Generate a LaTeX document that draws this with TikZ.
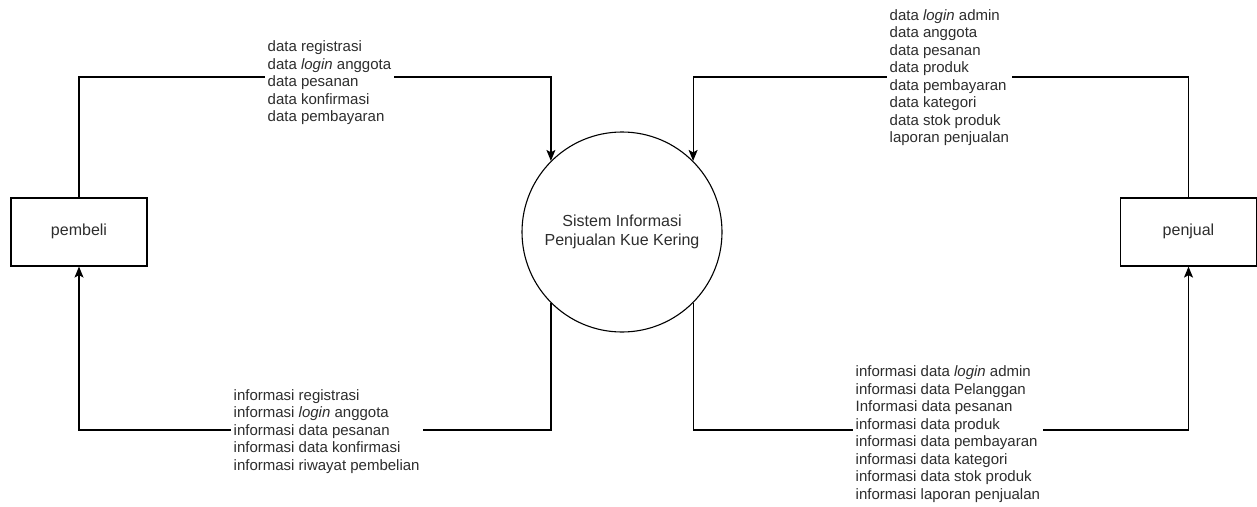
\documentclass[tikz,border=0pt]{standalone}
\usepackage{fontspec}
\setmainfont{Liberation Sans}
\usetikzlibrary{arrows.meta}
\definecolor{txt}{RGB}{45,45,45}
\tikzset{
  entity/.style={draw=black, line width=1.2pt, minimum width=136pt, minimum height=68pt,
    inner sep=0pt, text=txt, font=\fontsize{16}{19}\selectfont},
  process/.style={draw=black, line width=1.1pt, circle, minimum size=200pt, inner sep=0pt,
    align=center, text=txt, font=\fontsize{16}{19}\selectfont},
  flow/.style={draw=black, line width=1.2pt},
  flowarrow/.style={flow, -{Stealth[length=11pt,width=9pt,inset=2.5pt]}},
  flowlabel/.style={fill=white, inner xsep=3pt, inner ysep=1pt, anchor=west, align=left,
    text=txt, font=\fontsize{15}{17.5}\selectfont}
}
\begin{document}
\begin{tikzpicture}[x=1pt,y=-1pt]
\useasboundingbox (0,0) rectangle (1257,506);

\node[entity] (pembeli) at (79,232) {\strut pembeli};
\node[entity] (penjual) at (1188.5,232) {\strut penjual};
\node[process] (proc) at (622,232) {\strut Sistem Informasi\\\strut Penjualan Kue Kering};

\coordinate (ytop) at (0,77);
\coordinate (ybot) at (0,430);
\coordinate (tl) at (proc.135 |- ytop);
\coordinate (tr) at (proc.45 |- ytop);
\coordinate (bl) at (proc.225 |- ybot);
\coordinate (br) at (proc.315 |- ybot);

\draw[flowarrow] (pembeli.north) |- (tl) -- (proc.135);
\draw[flowarrow] (penjual.north) |- (tr) -- (proc.45);
\draw[flowarrow] (proc.225) -- (bl) -| (pembeli.south);
\draw[flowarrow] (proc.315) -- (br) -| (penjual.south);

\node[flowlabel] (lab1) at (264.5,83) {\strut data registrasi\\\strut data \textit{login} anggota\\\strut data pesanan\\\strut data konfirmasi\\\strut data pembayaran};
\node[flowlabel] (lab2) at (886.5,78) {\strut data \textit{login} admin\\\strut data anggota\\\strut data pesanan\\\strut data produk\\\strut data pembayaran\\\strut data kategori\\\strut data stok produk\\\strut laporan penjualan};
\node[flowlabel] (lab3) at (230.5,431.5) {\strut informasi registrasi\\\strut informasi \textit{login} anggota\\\strut informasi data pesanan\\\strut informasi data konfirmasi\\\strut informasi riwayat pembelian};
\node[flowlabel] (lab4) at (852.5,434.5) {\strut informasi data \textit{login} admin\\\strut informasi data Pelanggan\\\strut Informasi data pesanan\\\strut informasi data produk\\\strut informasi data pembayaran\\\strut informasi data kategori\\\strut informasi data stok produk\\\strut informasi laporan penjualan};
\end{tikzpicture}
\end{document}
